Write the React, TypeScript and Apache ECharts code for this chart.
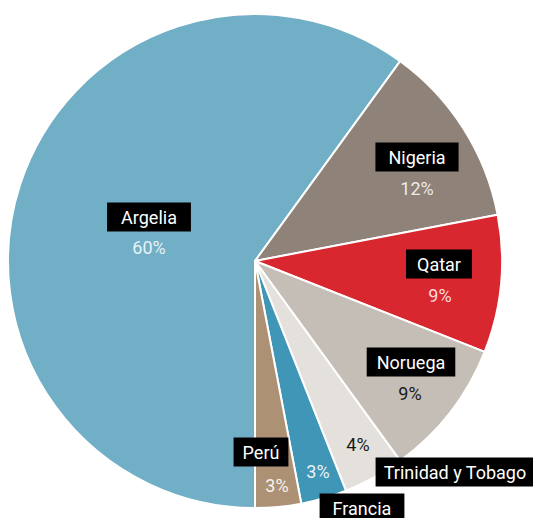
import React, { useEffect, useRef } from "react";
import * as echarts from "echarts";

const categories = ["Argelia", "Nigeria", "Qatar", "Noruega", "Trinidad y Tobago", "Francia", "Perú"];
const values = [60, 12, 9, 9, 4, 3, 3];
const colors = ["#71afc7", "#8e8279", "#d9272f", "#c5beb7", "#e4e1dc", "#3f96b7", "#ad9174"];
const pctColors = ["rgba(255,255,255,0.85)", "rgba(255,255,255,0.85)", "rgba(255,255,255,0.85)", "#1a1a1a", "#1a1a1a", "rgba(255,255,255,0.9)", "rgba(255,255,255,0.9)"];
// label anchor positions (px) for the name boxes and the percentages
const namePos: [number, number][] = [
  [149, 217], [417, 157], [439, 264], [411, 362], [455, 472], [362, 508], [261, 452],
];
const pctPos: [number, number][] = [
  [149, 247], [417, 188], [440, 295], [410, 393], [358, 444], [318, 471], [277, 485],
];
const boxPad = [14, 13, 11, 10, 8, 13, 9];

const FONT = "Roboto";

export default function App() {
  const ref = useRef<HTMLDivElement>(null);
  useEffect(() => {
    document.body.style.margin = "0";
    if (!ref.current) return;
    const chart = echarts.init(ref.current, undefined, { renderer: "svg" });
    const data = categories.map((c, i) => ({
      name: c,
      value: values[i],
      itemStyle: { color: colors[i] },
      label: { color: pctColors[i] },
    }));
    const dataNames = categories.map((c, i) => ({
      name: c,
      value: values[i],
      label: { padding: [6, boxPad[i], 5, boxPad[i]] },
    }));
    chart.setOption({
      animation: false,
      series: [
        {
          type: "pie",
          center: [255, 261],
          radius: [0, 247],
          startAngle: 270,
          clockwise: true,
          itemStyle: { borderColor: "#fff", borderWidth: 2 },
          label: {
            show: true,
            position: "inside",
            formatter: (p: any) => `${p.value}%`,
            fontFamily: FONT,
            fontSize: 18,
          },
          labelLine: { show: false },
          labelLayout: (p: any) => ({ x: pctPos[p.dataIndex][0], y: pctPos[p.dataIndex][1] }),
          data,
          silent: true,
        },
        {
          type: "pie",
          center: [255, 261],
          radius: [0, 247],
          startAngle: 270,
          clockwise: true,
          silent: true,
          itemStyle: { color: "transparent", borderWidth: 0 },
          label: {
            show: true,
            position: "inside",
            formatter: (p: any) => p.name,
            color: "#fff",
            fontFamily: FONT,
            fontSize: 18,
            lineHeight: 18,
            backgroundColor: "#000",
            padding: [6, 12, 5, 12],
          },
          labelLine: { show: false },
          labelLayout: (p: any) => ({ x: namePos[p.dataIndex][0], y: namePos[p.dataIndex][1] }),
          data: dataNames,
        },
      ],
    });
    return () => chart.dispose();
  }, []);
  return <div ref={ref} style={{ width: 533, height: 518 }} />;
}
